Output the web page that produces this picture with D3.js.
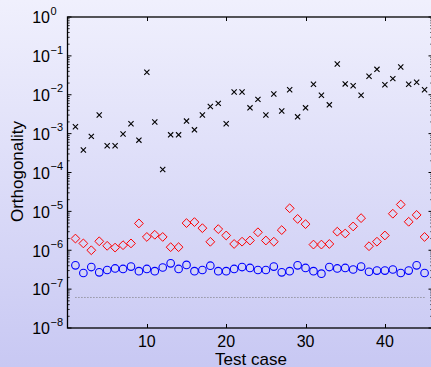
<!DOCTYPE html>
<html>
<head>
<meta charset="utf-8">
<script src="https://cdn.jsdelivr.net/npm/d3@7"></script>
<style>
  html, body { margin: 0; padding: 0; overflow: hidden; }
  svg { display: block; }
  text { font-family: "Liberation Sans", Arial, Helvetica, sans-serif; fill: #000; }
</style>
</head>
<body>
<svg id="chart" width="431" height="367"></svg>
<script>
// Orthogonality per test case, three methods (log scale)
const testCases = d3.range(1, 46);

const crossValues = [
  1.5e-3, 3.8e-4, 8.5e-4, 3.0e-3, 4.9e-4, 4.9e-4, 9.8e-4, 1.8e-3, 6.8e-4, 3.8e-2,
  2.0e-3, 1.2e-4, 9.3e-4, 9.3e-4, 2.1e-3, 1.25e-3, 3.0e-3, 5.0e-3, 6.0e-3, 1.8e-3,
  1.18e-2, 1.18e-2, 4.6e-3, 7.6e-3, 3.0e-3, 1.05e-2, 3.8e-3, 1.35e-2, 2.7e-3, 4.6e-3,
  1.86e-2, 9.7e-3, 5.5e-3, 6.2e-2, 1.9e-2, 1.7e-2, 9.7e-3, 3.0e-2, 4.5e-2, 1.8e-2,
  2.6e-2, 5.2e-2, 1.86e-2, 2.1e-2, 1.35e-2
];

const diamondValues = [
  2.0e-6, 1.5e-6, 1.0e-6, 1.7e-6, 1.3e-6, 1.17e-6, 1.35e-6, 1.5e-6, 4.9e-6, 2.2e-6,
  2.5e-6, 2.2e-6, 1.2e-6, 1.2e-6, 5.0e-6, 5.3e-6, 3.7e-6, 1.65e-6, 3.5e-6, 2.4e-6,
  1.45e-6, 1.66e-6, 1.78e-6, 2.9e-6, 1.78e-6, 1.66e-6, 3.3e-6, 1.2e-5, 6.4e-6, 4.7e-6,
  1.4e-6, 1.4e-6, 1.45e-6, 3.0e-6, 2.7e-6, 4.1e-6, 6.7e-6, 1.27e-6, 1.66e-6, 2.4e-6,
  8.7e-6, 1.5e-5, 5.4e-6, 8.1e-6, 2.2e-6
];

const circleValues = [
  4.1e-7, 2.6e-7, 3.7e-7, 2.7e-7, 3.1e-7, 3.4e-7, 3.3e-7, 3.8e-7, 2.9e-7, 3.3e-7,
  2.9e-7, 3.6e-7, 4.6e-7, 3.3e-7, 4.2e-7, 2.9e-7, 3.1e-7, 4.0e-7, 2.9e-7, 2.9e-7,
  3.3e-7, 3.7e-7, 3.5e-7, 3.1e-7, 3.1e-7, 3.8e-7, 2.7e-7, 2.9e-7, 4.1e-7, 3.5e-7,
  2.9e-7, 2.5e-7, 3.7e-7, 3.4e-7, 3.5e-7, 3.2e-7, 3.8e-7, 2.8e-7, 3.0e-7, 3.0e-7,
  3.2e-7, 2.6e-7, 3.0e-7, 4.1e-7, 2.6e-7
];

// Reference level drawn as a dotted line
const referenceLevel = 6.1e-8;

const xTickValues = [10, 20, 30, 40];
const yDecades = [0, -1, -2, -3, -4, -5, -6, -7, -8];
const xLabel = "Test case";
const yLabel = "Orthogonality";

const W = 431, H = 367;
const margin = { left: 67.5, top: 17, right: 432.5, bottom: 328 };

const svg = d3.select("#chart");

// figure background: soft vertical lavender gradient
const defs = svg.append("defs");
const grad = defs.append("linearGradient")
  .attr("id", "bg").attr("x1", 0).attr("y1", 0).attr("x2", 0).attr("y2", 1);
grad.append("stop").attr("offset", "0%").attr("stop-color", "#f0f0fd");
grad.append("stop").attr("offset", "100%").attr("stop-color", "#c8c8f3");
svg.append("rect").attr("width", W).attr("height", H).attr("fill", "url(#bg)");

const x = d3.scaleLinear().domain([0, 46]).range([margin.left, margin.right]);
const y = d3.scaleLog().domain([1e-8, 1]).range([margin.bottom, margin.top]);

const g = svg.append("g");

// ticks (inward, mirrored on all sides)
const majorLen = 4, minorLen = 2.2;
const tickG = g.append("g").attr("stroke", "#000").attr("stroke-width", 1);

xTickValues.forEach(v => {
  const px = Math.round(x(v)) + 0.5;
  tickG.append("line").attr("x1", px).attr("x2", px)
    .attr("y1", margin.bottom).attr("y2", margin.bottom - majorLen);
  tickG.append("line").attr("x1", px).attr("x2", px)
    .attr("y1", margin.top).attr("y2", margin.top + majorLen);
});

yDecades.forEach(e => {
  const py = y(Math.pow(10, e));
  [[margin.left, 1], [margin.right, -1]].forEach(([bx, dir]) => {
    tickG.append("line").attr("x1", bx).attr("x2", bx + dir * majorLen)
      .attr("y1", py).attr("y2", py);
  });
  if (e > -8) {
    for (let m = 2; m <= 9; m++) {
      const pm = y(m * Math.pow(10, e - 1));
      [[margin.left, 1], [margin.right, -1]].forEach(([bx, dir]) => {
        tickG.append("line").attr("x1", bx).attr("x2", bx + dir * minorLen)
          .attr("y1", pm).attr("y2", pm).attr("stroke-width", 0.8);
      });
    }
  }
});

// axes box
g.append("rect")
  .attr("x", margin.left).attr("y", margin.top)
  .attr("width", margin.right - margin.left).attr("height", margin.bottom - margin.top)
  .attr("fill", "none").attr("stroke", "#000").attr("stroke-width", 1.3);

// x tick labels
g.selectAll(".xt").data(xTickValues).join("text")
  .attr("class", "xt")
  .attr("x", d => x(d)).attr("y", 347)
  .attr("text-anchor", "middle").attr("font-size", 16)
  .text(d => d);

// y tick labels as 10^e
yDecades.forEach(e => {
  const py = y(Math.pow(10, e));
  const base = py + 6.3;
  g.append("text").attr("x", 50).attr("y", base)
    .attr("text-anchor", "end").attr("font-size", 16).text("10");
  g.append("text").attr("x", 50.5).attr("y", base - 8.6)
    .attr("font-size", 11).text(e === 0 ? "0" : "\u2212" + (-e));
});

// axis labels
g.append("text").attr("x", 251).attr("y", 364.5)
  .attr("text-anchor", "middle").attr("font-size", 17).text(xLabel);
g.append("text")
  .attr("transform", `translate(23.3,171.5) rotate(-90)`)
  .attr("text-anchor", "middle").attr("font-size", 17).text(yLabel);

// dotted reference line
g.append("line")
  .attr("x1", x(testCases[0])).attr("x2", x(testCases[testCases.length - 1]))
  .attr("y1", y(referenceLevel)).attr("y2", y(referenceLevel))
  .attr("stroke", "#777").attr("stroke-width", 1).attr("stroke-dasharray", "1,2");

// blue circles
g.append("g").selectAll("circle").data(circleValues).join("circle")
  .attr("cx", (d, i) => x(testCases[i])).attr("cy", d => y(d))
  .attr("r", 3.8).attr("fill", "none").attr("stroke", "#0000ff").attr("stroke-width", 1.1);

// red diamonds
const dS = 4.4;
g.append("g").selectAll("path").data(diamondValues).join("path")
  .attr("d", (d, i) => {
    const cx = x(testCases[i]), cy = y(d);
    return `M${cx},${cy - dS}L${cx + dS},${cy}L${cx},${cy + dS}L${cx - dS},${cy}Z`;
  })
  .attr("fill", "none").attr("stroke", "#ff0000").attr("stroke-width", 1);

// black crosses
const cS = 2.6;
g.append("g").selectAll("path").data(crossValues).join("path")
  .attr("d", (d, i) => {
    const cx = x(testCases[i]), cy = y(d);
    return `M${cx - cS},${cy - cS}L${cx + cS},${cy + cS}M${cx - cS},${cy + cS}L${cx + cS},${cy - cS}`;
  })
  .attr("fill", "none").attr("stroke", "#000").attr("stroke-width", 1.1);
</script>
</body>
</html>
